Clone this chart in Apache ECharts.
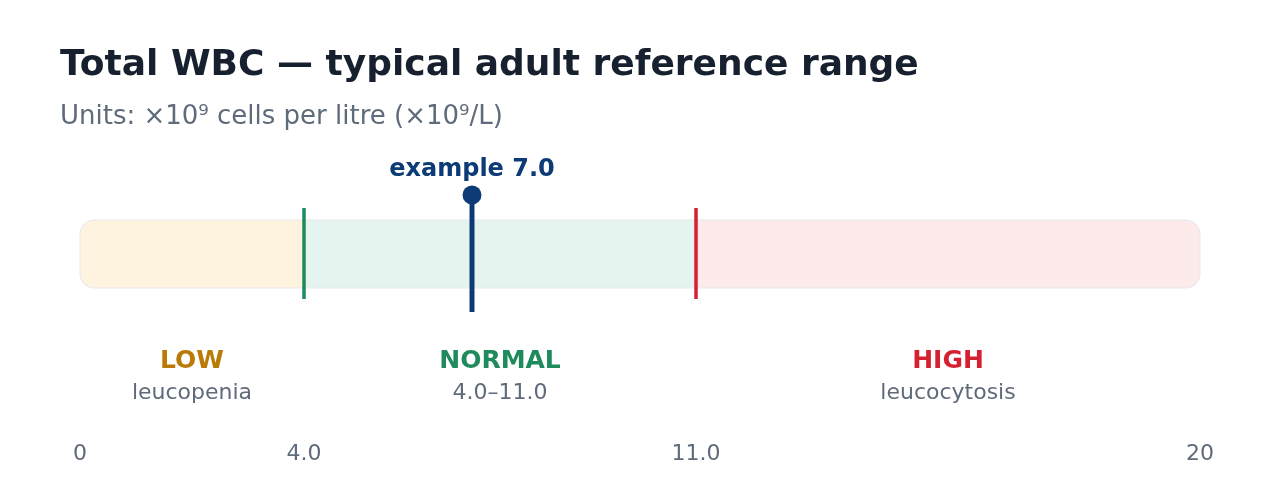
<!DOCTYPE html>
<html>
<head>
<meta charset="UTF-8">
<title>Total WBC reference range</title>
<script src="https://cdn.jsdelivr.net/npm/echarts@6/dist/echarts.min.js"></script>
<style>
html, body { margin: 0; padding: 0; background: #fff; }
#chart { width: 1280px; height: 500px; }
</style>
</head>
<body>
<div id="chart"></div>
<script type="text/javascript">
// data
var zoneNames = ['LOW', 'NORMAL', 'HIGH'];
var zoneStart = [0, 4.0, 11.0];
var zoneEnd = [4.0, 11.0, 20];
var zoneNotes = ['leucopenia', '4.0–11.0', 'leucocytosis'];
var thresholds = [4.0, 11.0];
var exampleValue = 7.0;
var tickValues = [0, 4.0, 11.0, 20];
var tickLabels = ['0', '4.0', '11.0', '20'];

var FONT = 'DejaVu Sans';
var zoneFill = ['#fdf3de', '#e5f4ee', '#fdeaea'];
var zoneText = ['#b97a06', '#1f8a5b', '#d42030'];
var lineColor = ['#1f8a5b', '#d42030'];
var grey = '#5f6b7a';
var navy = '#0d3b75';

var chart = echarts.init(document.getElementById('chart'));

function zoneItem(params, api) {
	var i = params.dataIndex;
	var cs = params.coordSys;
	var x0 = api.coord([zoneStart[i], 0])[0];
	var x1 = api.coord([zoneEnd[i], 0])[0];
	var top = cs.y + 80, h = 68;
	var r = [0, 0, 0, 0];
	if (i === 0) r = [14, 0, 0, 14];
	if (i === zoneNames.length - 1) r = [0, 14, 14, 0];
	var xm = (x0 + x1) / 2;
	return {
		type: 'group',
		children: [
			{ type: 'rect', shape: { x: x0, y: top, width: x1 - x0, height: h, r: r },
			  style: { fill: zoneFill[i] } },
			{ type: 'text', style: { x: xm, y: cs.y + 221, text: zoneNames[i], fill: zoneText[i],
			  fontFamily: FONT, fontSize: 25, fontWeight: 'bold', align: 'center', verticalAlign: 'middle' } },
			{ type: 'text', style: { x: xm, y: cs.y + 253, text: zoneNotes[i], fill: grey,
			  fontFamily: FONT, fontSize: 22, align: 'center', verticalAlign: 'middle' } }
		]
	};
}

function outlineItem(params, api) {
	var cs = params.coordSys;
	var x0 = api.coord([zoneStart[0], 0])[0];
	var x1 = api.coord([zoneEnd[zoneEnd.length - 1], 0])[0];
	return { type: 'rect', shape: { x: x0, y: cs.y + 80, width: x1 - x0, height: 68, r: 14 },
		style: { fill: 'none', stroke: '#e6e9ee', lineWidth: 1 } };
}

function thresholdItem(params, api) {
	var cs = params.coordSys;
	var x = api.coord([api.value(0), 0])[0];
	return { type: 'line', shape: { x1: x, y1: cs.y + 68, x2: x, y2: cs.y + 159 },
		style: { stroke: lineColor[params.dataIndex], lineWidth: 3.5 } };
}

function markerItem(params, api) {
	var cs = params.coordSys;
	var x = api.coord([api.value(0), 0])[0];
	return {
		type: 'group',
		children: [
			{ type: 'line', shape: { x1: x, y1: cs.y + 55, x2: x, y2: cs.y + 172 },
			  style: { stroke: navy, lineWidth: 5 } },
			{ type: 'circle', shape: { cx: x, cy: cs.y + 55, r: 9.5 }, style: { fill: navy } },
			{ type: 'text', style: { x: x, y: cs.y + 30, text: 'example ' + api.value(0).toFixed(1), fill: navy,
			  fontFamily: FONT, fontSize: 24, fontWeight: 'bold', align: 'center', verticalAlign: 'middle' } }
		]
	};
}

var option = {
	backgroundColor: '#ffffff',
	animation: false,
	title: {
		text: 'Total WBC — typical adult reference range',
		subtext: 'Units: ×10⁹ cells per litre (×10⁹/L)',
		left: 60, top: 48, padding: 0, itemGap: 20,
		textStyle: { fontFamily: FONT, fontSize: 36, fontWeight: 'bold', color: '#17202e' },
		subtextStyle: { fontFamily: FONT, fontSize: 26, color: grey }
	},
	grid: { left: 80, right: 80, top: 140, bottom: 60 },
	xAxis: {
		type: 'value', min: 0, max: 20,
		axisLine: { show: false }, axisTick: { show: false }, splitLine: { show: false },
		axisLabel: {
			customValues: tickValues, margin: 3,
			fontFamily: FONT, fontSize: 22, color: grey,
			formatter: function (v) { return tickLabels[tickValues.indexOf(v)]; }
		}
	},
	yAxis: { type: 'value', min: 0, max: 1, show: false },
	series: [
		{ type: 'custom', renderItem: zoneItem, data: zoneNames.map(function (n, i) { return [zoneStart[i], zoneEnd[i]]; }), z: 1 },
		{ type: 'custom', renderItem: outlineItem, data: [[0]], z: 2 },
		{ type: 'custom', renderItem: thresholdItem, data: thresholds.map(function (t) { return [t]; }), z: 3 },
		{ type: 'custom', renderItem: markerItem, data: [[exampleValue]], z: 4 }
	]
};
chart.setOption(option);
</script>
</body>
</html>
